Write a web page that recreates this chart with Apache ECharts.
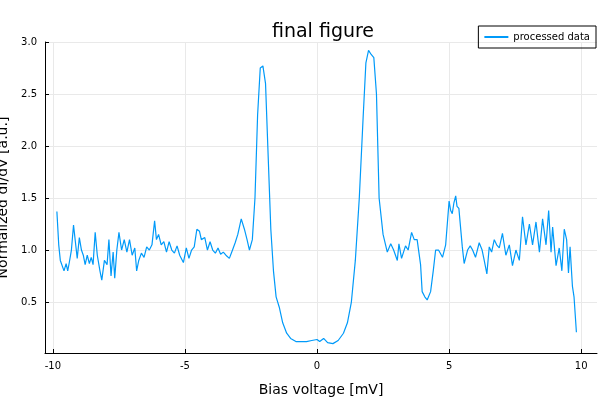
<!DOCTYPE html>
<html>
<head><meta charset="utf-8"><title></title></head>
<body style="margin:0">
<div id="container" style="height:400px;width:600px"></div>
<script src="https://cdn.jsdelivr.net/npm/echarts@6/dist/echarts.min.js"></script>
<script>
var biasV = [-9.85,-9.78,-9.72,-9.65,-9.58,-9.5,-9.44,-9.38,-9.3,-9.22,-9.15,-9.08,-9.0,-8.92,-8.85,-8.78,-8.7,-8.62,-8.55,-8.48,-8.4,-8.32,-8.22,-8.15,-8.05,-7.95,-7.88,-7.8,-7.72,-7.66,-7.58,-7.5,-7.4,-7.3,-7.2,-7.1,-7.0,-6.9,-6.83,-6.75,-6.65,-6.55,-6.45,-6.35,-6.25,-6.15,-6.08,-6.0,-5.9,-5.8,-5.7,-5.6,-5.5,-5.4,-5.3,-5.2,-5.06,-4.95,-4.85,-4.75,-4.65,-4.55,-4.45,-4.38,-4.25,-4.15,-4.05,-3.95,-3.85,-3.75,-3.65,-3.55,-3.45,-3.32,-3.2,-3.1,-3.0,-2.87,-2.75,-2.65,-2.56,-2.45,-2.35,-2.25,-2.15,-2.05,-1.95,-1.85,-1.75,-1.65,-1.55,-1.43,-1.3,-1.15,-1.0,-0.8,-0.6,-0.4,-0.2,0.0,0.1,0.25,0.4,0.6,0.8,1.0,1.15,1.3,1.45,1.6,1.75,1.85,1.95,2.05,2.15,2.25,2.35,2.5,2.66,2.79,2.9,3.04,3.1,3.2,3.35,3.45,3.58,3.68,3.79,3.92,3.98,4.08,4.17,4.3,4.4,4.49,4.6,4.75,4.87,5.0,5.06,5.12,5.18,5.25,5.3,5.37,5.5,5.57,5.7,5.8,5.89,6.0,6.14,6.25,6.33,6.43,6.52,6.61,6.71,6.8,6.9,7.02,7.15,7.28,7.4,7.53,7.66,7.78,7.91,8.04,8.16,8.29,8.42,8.54,8.67,8.77,8.86,8.92,9.05,9.17,9.27,9.36,9.45,9.52,9.58,9.67,9.73,9.82];
var dIdV = [1.37,1.05,0.9,0.9,0.8,0.87,0.8,0.88,1.0,1.24,1.08,0.92,1.12,1.0,0.95,0.86,0.95,0.87,0.93,0.86,1.17,0.95,0.8,0.71,0.9,0.86,1.1,0.75,0.98,0.73,1.0,1.17,1.0,1.1,0.98,1.1,0.95,1.02,0.8,0.9,0.97,0.93,1.03,1.0,1.05,1.28,1.1,1.15,1.05,1.08,0.98,1.08,1.0,0.97,1.04,0.95,0.88,1.02,0.92,1.0,1.03,1.2,1.18,1.1,1.12,1.0,1.08,1.0,0.97,1.02,0.96,0.98,0.95,0.92,1.0,1.07,1.15,1.3,1.2,1.1,1.0,1.1,1.5,2.3,2.75,2.77,2.6,1.9,1.2,0.8,0.55,0.45,0.3,0.2,0.15,0.12,0.12,0.12,0.13,0.14,0.12,0.15,0.11,0.1,0.13,0.2,0.3,0.5,0.9,1.5,2.3,2.8,2.92,2.88,2.85,2.5,1.5,1.15,0.98,1.06,1.0,0.9,1.06,0.92,1.04,1.0,1.17,1.1,1.1,0.86,0.6,0.55,0.52,0.6,0.8,1.0,1.0,0.93,1.05,1.47,1.38,1.35,1.45,1.52,1.42,1.4,1.03,0.87,1.0,1.04,1.0,0.93,1.07,1.0,0.9,0.77,1.03,0.98,1.1,1.05,1.02,1.16,0.95,1.05,0.85,1.0,0.9,1.32,1.05,1.25,1.05,1.27,0.98,1.3,1.05,1.38,0.98,1.22,0.85,1.02,0.8,1.2,1.1,0.78,1.03,0.65,0.55,0.21];
var xTicks = [-10, -5, 0, 5, 10];
var yTicks = [0.5, 1.0, 1.5, 2.0, 2.5, 3.0];

var chart = echarts.init(document.getElementById('container'));
var gridLine = {show: true, lineStyle: {color: '#e9e9e9', width: 1}};
chart.setOption({
  animation: false,
  title: {text: 'final figure', left: 318, top: 18, textAlign: 'center',
    textStyle: {fontFamily: 'DejaVu Sans', fontWeight: 'normal', fontSize: 19, color: '#000'}},
  legend: {right: 4, top: 26, orient: 'vertical', itemWidth: 24, itemHeight: 2, itemGap: 4,
    borderColor: '#000', borderWidth: 1, borderRadius: 0, padding: [6, 6, 6, 6],
    textStyle: {fontFamily: 'DejaVu Sans', fontSize: 10, color: '#000'},
    icon: 'rect', data: ['processed data']},
  grid: {left: 45, right: 3, top: 42, bottom: 47, outerBoundsMode: 'none', containLabel: false},
  xAxis: {type: 'value', min: -10.3, max: 10.6,
    name: 'Bias voltage [mV]', nameLocation: 'middle', nameGap: 30,
    nameTextStyle: {fontFamily: 'DejaVu Sans', fontSize: 14, color: '#000'},
    axisLine: {onZero: false, lineStyle: {color: '#000'}},
    axisTick: {customValues: xTicks, length: 4, inside: true, lineStyle: {color: '#000'}},
    axisLabel: {customValues: xTicks, fontFamily: 'DejaVu Sans', fontSize: 10, color: '#000', margin: 8},
    splitLine: gridLine},
  yAxis: {type: 'value', min: 0.01, max: 3.0,
    name: 'Normalized dI/dV [a.u.]', nameLocation: 'middle', nameGap: 32,
    nameTextStyle: {fontFamily: 'DejaVu Sans', fontSize: 14, color: '#000'},
    axisLine: {show: true, onZero: false, lineStyle: {color: '#000'}},
    axisTick: {customValues: yTicks, length: 4, inside: true, lineStyle: {color: '#000'}},
    axisLabel: {customValues: yTicks, fontFamily: 'DejaVu Sans', fontSize: 10, color: '#000', margin: 8,
      formatter: function (v) { return v.toFixed(1); }},
    splitLine: gridLine},
  series: [{name: 'processed data', type: 'line', showSymbol: false,
    data: biasV.map(function (x, i) { return [x, dIdV[i]]; }),
    lineStyle: {color: '#009af9', width: 1.2}, itemStyle: {color: '#009af9'}}]
});
</script>
</body>
</html>
